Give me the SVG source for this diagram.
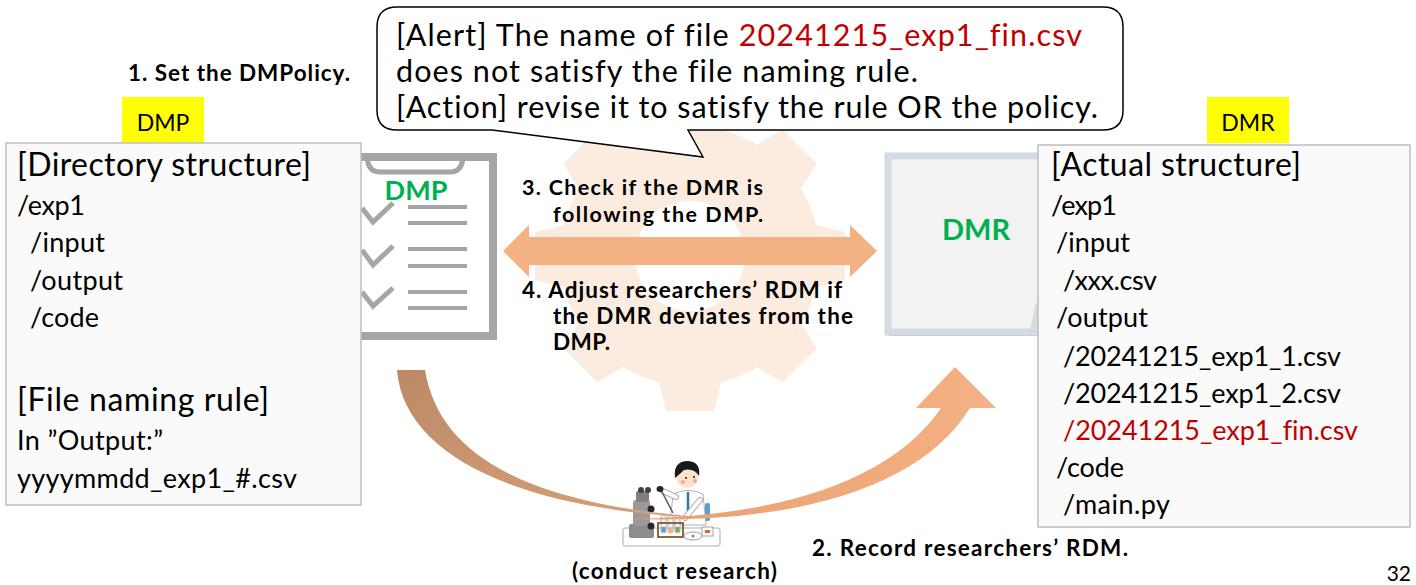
<svg xmlns="http://www.w3.org/2000/svg" xmlns:xlink="http://www.w3.org/1999/xlink" width="1416" height="585" viewBox="0 0 1416 585">
  <style>
    .t { font-family: Lato, "Open Sans", "Liberation Sans", sans-serif; fill: #000; font-variant-ligatures: none; }
    .b { font-weight: bold; }
    .body { font-size: 27px; }
    .bubble { font-size: 30.5px; }
    .head { font-size: 32px; }
    .lbl { font-size: 22.5px; font-weight: bold; }
    .lbl.tight { font-size: 21.5px; }
    .red { fill: #c00000; }
    .green { fill: #00b050; font-weight: bold; }
    .panel { fill: #fafafa; stroke: #bfbfbf; stroke-width: 1.5; }
    .tag { fill: #ffff00; }
    .clipline { stroke: #a6a6a6; fill: none; }
  </style>
  <defs>
    <polygon id="tooth" points="126,-31 155,-24 155,24 126,31"/>
    <linearGradient id="brownGrad" x1="0" y1="0" x2="1" y2="1">
      <stop offset="0" stop-color="#bd8a66"/>
      <stop offset="1" stop-color="#d9a27a"/>
    </linearGradient>
    <linearGradient id="peachGrad" x1="0" y1="0" x2="1" y2="0">
      <stop offset="0" stop-color="#e8a070"/>
      <stop offset="1" stop-color="#f4b183"/>
    </linearGradient>
  </defs>

  <rect width="1416" height="585" fill="#fff"/>

  <!-- background gear -->
  <g id="gear" transform="translate(690,256)" fill="#fcebdf">
    <circle r="130"/>
    <use href="#tooth"/>
    <use href="#tooth" transform="rotate(45)"/>
    <use href="#tooth" transform="rotate(90)"/>
    <use href="#tooth" transform="rotate(135)"/>
    <use href="#tooth" transform="rotate(180)"/>
    <use href="#tooth" transform="rotate(225)"/>
    <use href="#tooth" transform="rotate(270)"/>
    <use href="#tooth" transform="rotate(315)"/>
    <circle r="55" fill="#fff"/>
  </g>

  <!-- DMP clipboard icon -->
  <g id="dmp-icon">
    <rect x="340" y="157" width="153" height="179" fill="#fff" stroke="#a6a6a6" stroke-width="8"/>
    <path d="M367,157 Q368,172 380,172 L450,172 Q462,172 463,157" class="clipline" stroke-width="5"/>
    <g class="clipline" stroke-width="5">
      <polyline points="362,208 373,222 393,203"/>
      <polyline points="362,250 373,265 393,246"/>
      <polyline points="362,292 373,306 393,288"/>
    </g>
    <g stroke="#a6a6a6" stroke-width="4">
      <line x1="408" y1="207" x2="467" y2="207"/>
      <line x1="408" y1="223" x2="467" y2="223"/>
      <line x1="408" y1="249" x2="467" y2="249"/>
      <line x1="408" y1="266" x2="467" y2="266"/>
      <line x1="408" y1="292" x2="467" y2="292"/>
      <line x1="408" y1="308" x2="467" y2="308"/>
    </g>
    <text x="416" y="200" class="t green" font-size="27" text-anchor="middle">DMP</text>
  </g>

  <!-- DMR document icon -->
  <g id="dmr-icon">
    <rect x="889" y="159" width="160" height="177" fill="#bfbfbf"/>
    <rect x="888" y="156" width="160" height="176" fill="#f2f2f2" stroke="#d5dbe3" stroke-width="7"/>
    <path d="M1036,302 L1030,330 L1044,326 Z" fill="#d5dbe3"/>
    <text x="976" y="240" class="t green" font-size="29" text-anchor="middle">DMR</text>
  </g>

  <!-- DMP panel -->
  <g id="dmp-panel">
    <rect x="122" y="97" width="82" height="46" class="tag"/>
    <text x="163" y="131" class="t" font-size="23" text-anchor="middle">DMP</text>
    <rect x="6" y="143" width="355" height="362" class="panel"/>
    <text x="17" y="176" class="t head" textLength="294">[Directory structure]</text>
    <text x="17" y="215" class="t body" textLength="68">/exp1</text>
    <text x="30" y="252" class="t body" textLength="75">/input</text>
    <text x="30" y="290" class="t body" textLength="93">/output</text>
    <text x="30" y="327" class="t body" textLength="69">/code</text>
    <text x="17" y="411" class="t head" textLength="252">[File naming rule]</text>
    <text x="17" y="450" class="t body" textLength="146">In ”Output:”</text>
    <text x="17" y="488" class="t body" textLength="280">yyyymmdd_exp1_#.csv</text>
  </g>

  <!-- DMR panel -->
  <g id="dmr-panel">
    <rect x="1207" y="97" width="82" height="46" class="tag"/>
    <text x="1248" y="131" class="t" font-size="23" text-anchor="middle">DMR</text>
    <rect x="1038" y="145" width="372" height="382" class="panel"/>
    <text x="1051" y="176" class="t head" textLength="250">[Actual structure]</text>
    <text x="1051" y="215" class="t body" textLength="66">/exp1</text>
    <text x="1056" y="252" class="t body" textLength="74">/input</text>
    <text x="1063" y="290" class="t body" textLength="94">/xxx.csv</text>
    <text x="1056" y="327" class="t body" textLength="92">/output</text>
    <text x="1063" y="366" class="t body" textLength="278">/20241215_exp1_1.csv</text>
    <text x="1063" y="403" class="t body" textLength="278">/20241215_exp1_2.csv</text>
    <text x="1063" y="440" class="t body red" textLength="295">/20241215_exp1_fin.csv</text>
    <text x="1056" y="477" class="t body" textLength="68">/code</text>
    <text x="1063" y="514" class="t body" textLength="107">/main.py</text>
  </g>

  <!-- alert callout -->
  <g id="alert">
    <path d="M397,7 H1103 Q1123,7 1123,27 V110 Q1123,130 1103,130 H688 L703,157 L492,130 H397 Q377,130 377,110 V27 Q377,7 397,7 Z" fill="#fff" stroke="#000" stroke-width="1.5"/>
    <text x="396" y="46" class="t bubble" textLength="686">[Alert] The name of file <tspan class="red">20241215_exp1_fin.csv</tspan></text>
    <text x="396" y="82" class="t bubble" textLength="522">does not satisfy the file naming rule.</text>
    <text x="396" y="118" class="t bubble" textLength="702">[Action] revise it to satisfy the rule OR the policy.</text>
  </g>

  <!-- researcher at the bench -->
  <g id="researcher">
    <rect x="623" y="528" width="97" height="18" rx="3" fill="#fff" stroke="#c8c8c8" stroke-width="1.5"/>
    <!-- microscope -->
    <rect x="629" y="524" width="25" height="14" rx="2" fill="#8c8c8c"/>
    <rect x="633" y="500" width="17" height="26" rx="3" fill="#9a9a9a"/>
    <rect x="636" y="491" width="13" height="11" rx="2" fill="#7f7f7f"/>
    <circle cx="641" cy="490" r="3" fill="#404040"/>
    <circle cx="648" cy="490" r="3" fill="#404040"/>
    <circle cx="651" cy="509" r="3.5" fill="#262626"/>
    <circle cx="651" cy="526" r="3.5" fill="#262626"/>
    <!-- chair back -->
    <rect x="705" y="503" width="5" height="18" rx="2" fill="#5b9bd5"/>
    <!-- coat -->
    <path d="M673,494 Q688,487 703,494 L706,525 L670,525 Z" fill="#fff" stroke="#b0b0b0" stroke-width="1"/>
    <line x1="688" y1="492" x2="688" y2="512" stroke="#2e75b6" stroke-width="2.5"/>
    <!-- arm with pipette -->
    <path d="M676,497 L663,491" stroke="#b0b0b0" stroke-width="6" stroke-linecap="round"/>
    <path d="M676,497 L663,491" stroke="#fff" stroke-width="4" stroke-linecap="round"/>
    <line x1="661" y1="490" x2="673" y2="513" stroke="#595959" stroke-width="1.5"/>
    <ellipse cx="660" cy="489" rx="3.5" ry="3" fill="#262626"/>
    <path d="M700,500 L685,518" stroke="#b0b0b0" stroke-width="6" stroke-linecap="round"/>
    <path d="M700,500 L685,518" stroke="#fff" stroke-width="4" stroke-linecap="round"/>
    <!-- head -->
    <circle cx="687" cy="477" r="11" fill="#fde2cc"/>
    <path d="M675,478 Q673,461 688,461 Q701,462 699,476 Q694,468 684,470 Q680,474 675,478 Z" fill="#1a1a1a"/>
    <circle cx="683" cy="482" r="2" fill="#f4a6a6"/>
    <circle cx="695" cy="481" r="2" fill="#f4a6a6"/>
    <circle cx="686" cy="478" r="1" fill="#1a1a1a"/>
    <circle cx="694" cy="477" r="1" fill="#1a1a1a"/>
    <!-- test tubes -->
    <rect x="661" y="515" width="5" height="18" rx="2" fill="#eef4fa" stroke="#a0a0a0" stroke-width="0.8"/>
    <rect x="668" y="515" width="5" height="18" rx="2" fill="#eef4fa" stroke="#a0a0a0" stroke-width="0.8"/>
    <rect x="675" y="515" width="5" height="18" rx="2" fill="#eef4fa" stroke="#a0a0a0" stroke-width="0.8"/>
    <rect x="661.5" y="527" width="4" height="5" fill="#5b9bd5"/>
    <rect x="668.5" y="527" width="4" height="5" fill="#f4b183"/>
    <rect x="675.5" y="527" width="4" height="5" fill="#70ad47"/>
    <rect x="658" y="523" width="25" height="14" fill="none" stroke="#7f5a2e" stroke-width="1.8"/>
    <!-- dish and box -->
    <ellipse cx="693" cy="536" rx="9" ry="4" fill="#fff" stroke="#a0a0a0" stroke-width="1"/>
    <circle cx="693" cy="536" r="1.5" fill="#e06080"/>
    <rect x="702" y="527" width="11" height="9" fill="#fff" stroke="#a0a0a0" stroke-width="1"/>
    <rect x="705" y="530" width="5" height="3" fill="#e06040"/>
  </g>

  <!-- connectors -->
  <g id="connectors">
    <!-- 3/4: check and adjust -->
    <polygon points="503,251 529,225 529,237 850,237 850,225 877,251 850,277 850,265 529,265 529,277" fill="#f4b183"/>
    <!-- conduct research: from the DMP down to the bench -->
    <path d="M397,370 C404,458 525,512 712,518 C540,506 440,462 425,370 Z" fill="url(#brownGrad)"/>
    <!-- record: from the bench up to the DMR -->
    <path d="M632,519 C790,516 895,476 941,408 L916,408 L955,367 L996,408 L970,408 C922,486 800,524 632,519 Z" fill="url(#peachGrad)"/>
  </g>

  <!-- step labels -->
  <g id="labels">
    <text x="128" y="81" class="t lbl" textLength="222">1. Set the DMPolicy.</text>
    <text x="522" y="195" class="t lbl tight" textLength="241">3. Check if the DMR is</text>
    <text x="553" y="222" class="t lbl tight" textLength="210">following the DMP.</text>
    <text x="522" y="298" class="t lbl" textLength="320">4. Adjust researchers’ RDM if</text>
    <text x="553" y="324" class="t lbl" textLength="300">the DMR deviates from the</text>
    <text x="553" y="350" class="t lbl" textLength="57">DMP.</text>
    <text x="812" y="556" class="t lbl" textLength="316">2. Record researchers’ RDM.</text>
    <text x="572" y="579" class="t lbl" textLength="205">(conduct research)</text>
    <text x="1411" y="581" class="t" font-size="21" text-anchor="end">32</text>
  </g>
</svg>
